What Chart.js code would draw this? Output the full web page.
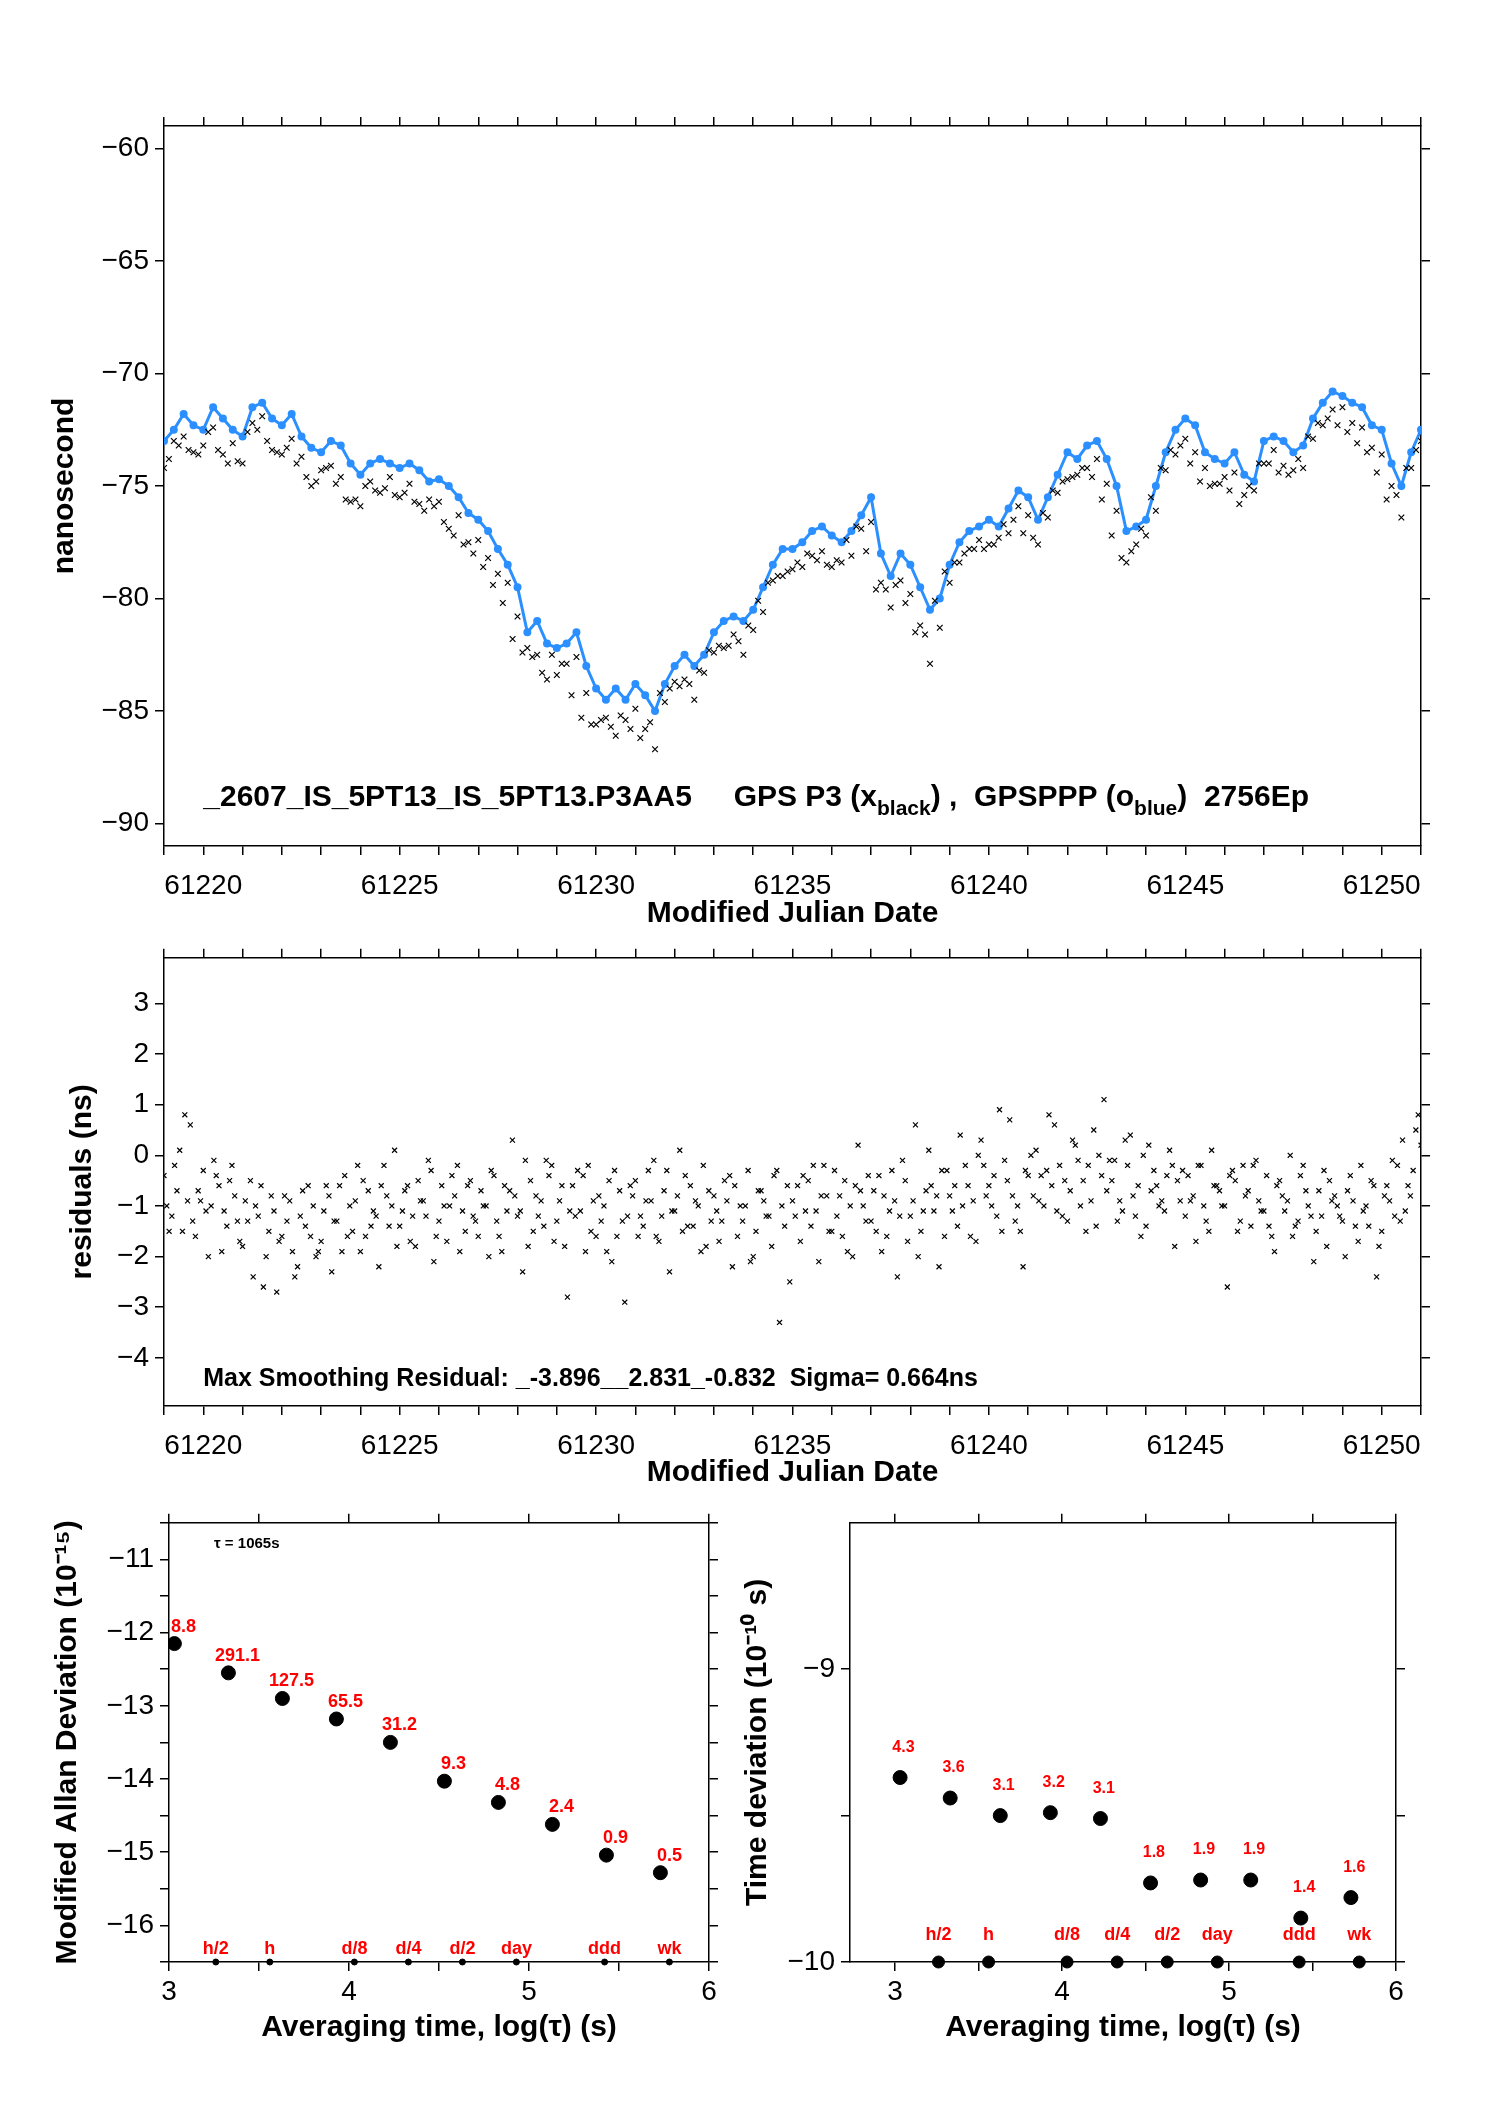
<!DOCTYPE html>
<html><head><meta charset="utf-8">
<script src="https://cdn.jsdelivr.net/npm/chart.js@4.4.1/dist/chart.umd.min.js"></script>
<style>
body{margin:0;background:#fff;width:1488px;height:2105px;position:relative;overflow:hidden}
canvas{position:absolute}
</style></head><body>
<canvas id="c1" style="left:0;top:100px;width:1488px;height:850px"></canvas>
<canvas id="c2" style="left:0;top:935px;width:1488px;height:580px"></canvas>
<canvas id="c3" style="left:0;top:1500px;width:740px;height:600px"></canvas>
<canvas id="c4" style="left:740px;top:1500px;width:748px;height:600px"></canvas>
<script>
// ─── Data ────────────────────────────────────────────────────────────────────
const mjdStart = 61219.0;
const step = 0.25;
const ppp = [-73,-72.5,-71.8,-72.3,-72.5,-71.5,-72,-72.5,-72.8,-71.5,-71.3,-72,-72.3,-71.8,-72.8,-73.3,-73.5,-73,-73.2,-74,
  -74.5,-74,-73.8,-74,-74.2,-74,-74.3,-74.8,-74.7,-75,-75.5,-76.2,-76.5,-77,-77.8,-78.5,-79.5,-81.5,-81,-82,
  -82.2,-82,-81.5,-83,-84,-84.5,-84,-84.5,-83.8,-84.3,-85,-83.8,-83,-82.5,-83,-82.5,-81.5,-81,-80.8,-81,
  -80.5,-79.5,-78.5,-77.8,-77.8,-77.5,-77,-76.8,-77.2,-77.5,-77,-76.3,-75.5,-78,-79,-78,-78.5,-79.5,-80.5,-80,
  -78.5,-77.5,-77,-76.8,-76.5,-76.8,-76,-75.2,-75.5,-76.5,-75.5,-74.5,-73.5,-73.8,-73.2,-73,-73.8,-75,-77,-76.8,
  -76.5,-75,-73.5,-72.5,-72,-72.3,-73.5,-73.8,-74,-73.5,-74.5,-74.8,-73,-72.8,-73,-73.5,-73.2,-72,-71.3,-70.8,
  -71,-71.3,-71.5,-72.3,-72.5,-74,-75,-73.5,-72.5];
const p3aStart = 61219.125;
const p3a = [-73.8,-73.2,-73.4,-73.6,-72.6,-73.4,-74.0,-73.9,-72.6,-72.5,
  -73.0,-73.5,-73.3,-74.0,-74.6,-74.8,-74.2,-74.9,-75.6,-75.6,
  -75.0,-75.2,-75.1,-75.4,-75.3,-75.7,-76.1,-75.9,-76.6,-77.2,
  -77.6,-78.0,-78.6,-79.4,-80.2,-81.8,-82.4,-82.6,-83.3,-82.5,
  -82.9,-84.3,-85.3,-85.6,-85.4,-85.7,-85.2,-85.8,-86.2,-85.5,
  -84.2,-84.0,-83.9,-83.8,-83.2,-82.3,-82.1,-82.1,-81.9,-81.2,
  -80.1,-79.3,-79.0,-78.8,-78.4,-78.0,-78.3,-78.5,-78.3,-77.4,
  -76.8,-77.9,-79.6,-79.6,-79.4,-80.2,-81.5,-81.6,-80.1,-78.8,
  -78.4,-78.0,-77.8,-77.8,-77.6,-76.7,-76.5,-77.1,-77.3,-76.2,
  -75.2,-74.8,-74.6,-74.2,-74.6,-75.6,-77.2,-78.2,-77.9,-76.9,
  -75.5,-74.2,-73.4,-73.2,-74.0,-74.8,-75.0,-74.9,-75.2,-75.8,
  -75.0,-74.0,-74.0,-74.4,-74.5,-73.8,-72.8,-72.2,-72.0,-72.3,
  -72.6,-73.1,-73.5,-74.4,-75.6,-75.4,-74.2,-73.4];
const p3b = [-74.2,-73.0,-72.8,-73.5,-73.2,-72.4,-73.6,-73.1,-74.0,-72.2,-71.9,-73.4,-73.6,-72.9,-73.7,-75.0,-74.3,-74.1,-74.6,-75.7,
  -75.9,-74.8,-75.3,-74.6,-75.5,-74.9,-75.8,-75.6,-75.7,-76.9,-76.3,-77.5,-77.4,-78.2,-78.9,-79.3,-80.8,-82.2,-82.5,-83.6,
  -83.4,-82.9,-82.6,-84.2,-85.6,-85.3,-86.1,-85.4,-84.9,-85.8,-86.7,-84.6,-83.7,-83.6,-84.5,-83.3,-82.4,-82.2,-81.6,-82.5,
  -81.4,-80.6,-79.2,-79.0,-78.7,-78.6,-78.1,-77.9,-78.6,-78.4,-78.1,-76.9,-76.6,-79.3,-80.4,-79.2,-79.8,-81.2,-82.9,-81.3,
  -79.3,-78.4,-77.8,-77.4,-77.6,-77.3,-77.1,-75.9,-76.3,-77.6,-76.4,-75.3,-74.7,-74.5,-74.2,-73.8,-74.9,-76.1,-78.4,-77.6,
  -77.2,-76.1,-74.3,-73.6,-72.9,-73.5,-74.2,-74.9,-74.6,-74.4,-75.4,-75.2,-74.0,-73.4,-74.1,-74.3,-74.2,-72.9,-72.3,-71.6,
  -71.5,-72.2,-72.4,-73.3,-73.6,-75.0,-76.4,-74.2,-73.0];

const residStep = 0.2;
const resid1Start = 61219.0;
const resid1 = [-0.4,-1.2,0.1,-0.9,-1.6,-0.3,-1.0,-0.6,-1.4,-0.8,
  -1.8,-0.5,-1.2,-2.0,-1.1,-1.6,-0.9,-2.2,-1.4,-1.0,
  -1.7,-0.8,-1.3,-0.4,-1.5,-1.9,-0.7,-1.2,-0.2,-1.0,
  -1.4,-0.6,-1.8,-0.9,-0.3,-1.3,-1.7,-0.8,-1.1,-0.5,
  -1.6,-1.0,-0.4,-1.9,-0.7,-1.2,-0.1,-1.5,-0.9,-0.4,
  -1.3,-1.8,-0.6,-1.1,-0.2,-1.6,-1.0,-2.1,-0.7,-1.2,
  -0.5,-1.4,-0.9,-1.7,-0.3,-1.1,-1.5,-0.6,-1.0,-1.8,
  -0.8,-1.3,-0.4,-1.6,-1.0,-2.0,-0.7,-1.2,-0.3,-1.4,
  -0.9,-1.7,-0.5,-1.1,-0.2,-1.5,-0.8,-1.9,-0.6,-1.0,
  -1.3,-0.4,-1.6,-0.9,-0.1,-1.2,-2.0,-0.7,-1.1,-0.3,
  -0.8,-1.4,-0.2,-0.9,0.3,-0.6,-1.2,-0.1,-0.8,-1.5,
  -0.4,0.1,-1.0,-0.6,-0.2,-1.3,0.2,-0.5,-0.9,0.0,
  -0.7,-0.1,-1.1,0.4,-0.6,-1.4,-0.3,-0.9,0.1,-0.5,
  -1.2,-0.8,-0.2,-1.5,-0.6,-1.0,-0.3,-1.3,-0.7,-0.1,
  -1.1,-1.6,-0.5,-0.9,-1.4,-0.2,-1.2,-0.7,-1.8,-0.8,
  -1.3,-0.4,-1.7,-1.0,-0.6,-1.5,-0.9,-0.2,-1.1,-0.3,0.2];
const resid2Start = 61219.07;
const resid2 = [-1.0,-0.2,-1.5,0.6,-0.7,-1.1,-0.1,-1.9,-0.5,-1.3,
  -0.9,-2.4,-0.6,-1.5,-2.7,-0.8,-1.9,-1.2,-0.6,-2.0,
  -1.1,-2.3,-0.6,-1.6,-0.9,-0.5,-1.4,-2.2,-0.8,0.1,
  -1.1,-1.7,-0.5,-1.2,-2.1,-0.6,-1.0,-0.2,-1.5,-1.2,
  -0.7,-2.0,-1.3,-0.6,0.3,-1.1,-1.8,-0.8,-1.4,-0.2,
  -0.9,-2.8,-1.2,-0.4,-1.5,-0.8,-1.9,-0.3,-1.3,-0.6,
  -1.6,-0.9,-0.1,-1.2,-2.3,-0.8,-0.4,-1.4,-1.9,-0.7,
  -1.1,-0.5,-2.2,-1.0,-0.3,-1.5,-0.9,-1.8,-3.3,-0.6,
  -1.2,-0.4,-1.4,-2.1,-0.8,-0.3,-1.6,-1.0,0.2,-1.3,
  -0.7,-1.9,-1.1,-2.4,-0.5,-0.9,-1.5,0.1,-0.8,-1.6,
  -1.1,0.4,-0.6,-1.7,-0.2,-1.0,0.9,-0.5,-1.3,-2.2,
  0.0,-0.9,-0.3,0.6,-1.2,-0.7,-0.1,-1.5,0.5,-0.4,
  -0.1,-1.3,0.3,-0.8,-1.6,0.2,-0.6,-1.1,-0.2,-0.9,
  -0.4,-1.7,-1.0,0.1,-0.7,-2.6,-0.5,-0.2,-1.4,-0.9,
  -0.4,-1.9,-0.8,0.0,-1.3,-0.7,-2.1,-1.2,-0.5,-1.0,
  -2.0,-0.9,-0.2,-1.4,-2.4,-0.8,-0.1,-1.3,-0.6,0.5];
const resid3Start = 61219.13;
const resid3 = [-1.5,-0.7,0.8,-1.3,-0.9,-2.0,-0.4,-1.1,-0.2,-1.7,
  -1.3,-1.0,-2.6,-0.8,-1.7,-1.3,-2.4,-0.7,-1.6,-1.9,
  -0.6,-1.3,-1.9,-1.0,-0.2,-1.6,-1.1,-0.6,-1.4,-1.8,
  -0.7,-1.2,-0.9,-0.1,-1.6,-1.0,-0.4,-1.9,-0.6,-1.3,
  -1.0,-0.3,-1.6,-1.1,-0.8,-2.3,-0.5,-1.2,-0.1,-1.7,
  -0.6,-1.1,-0.3,-1.9,-0.9,-1.3,-0.5,-1.6,-2.9,-0.8,
  -1.2,-0.3,-1.6,-0.7,-1.1,0.1,-1.4,-0.9,-0.2,-1.3,
  -1.7,-0.9,-0.6,-1.3,-2.1,-0.7,-1.2,-0.4,-1.0,-2.5,
  -0.6,-1.1,-0.2,-0.8,-1.5,-1.2,-0.5,-2.0,-0.7,-0.4,
  -1.5,-0.8,-0.3,-1.2,-1.7,0.6,-1.1,-0.6,-2.2,-0.3,
  -0.6,-1.0,-1.6,0.0,-0.8,-0.4,-1.5,0.7,-1.0,-0.3,
  -0.8,-0.4,0.8,-1.1,-0.5,0.3,-1.0,-0.2,-1.4,1.1,
  -0.5,-0.9,-0.2,-1.2,0.0,-0.7,-1.0,-0.4,-1.8,-0.3,
  -0.9,-0.2,-1.3,-0.6,-1.0,-0.4,-1.5,-0.8,-0.2,-1.1,
  -1.4,-0.6,-1.1,-1.6,-0.4,-1.0,-1.5,-0.3,-0.9,-1.2,
  -0.7,-1.4,-1.1,-0.5,-1.8,-0.6,-1.2,0.3,-0.8,0.8];

const logTau   = [3.03,3.33,3.63,3.93,4.23,4.53,4.83,5.13,5.43,5.73];
const modAdev  = [-12.15,-12.55,-12.9,-13.18,-13.5,-14.03,-14.32,-14.62,-15.04,-15.28];
const adevLbl  = ['8.8','291.1','127.5','65.5','31.2','9.3','4.8','2.4','0.9','0.5'];
const tdev     = [-9.37,-9.44,-9.5,-9.49,-9.51,-9.73,-9.72,-9.72,-9.85,-9.78];
const tdevLbl  = ['4.3','3.6','3.1','3.2','3.1','1.8','1.9','1.9','1.4','1.6'];
const markTau  = [3.26,3.56,4.03,4.33,4.63,4.93,5.42,5.78];
const markLbl  = ['h/2','h','d/8','d/4','d/2','day','ddd','wk'];

// ─── Helpers ─────────────────────────────────────────────────────────────────
const FONT = '"Liberation Sans", Arial, sans-serif';
const minus = v => String(v).replace('-', '\u2212');
const fixed = (w, h) => s => { if (w != null) s.width = w; if (h != null) s.height = h; };
const series = (start, vals, dt) => vals.map((v, i) => ({ x: start + i * dt, y: v }));

function axis(pos, opt) {
  const o = {
    position: pos, min: opt.min, max: opt.max,
    grid: { drawOnChartArea: false, drawTicks: true, tickLength: opt.tl || 9, color: '#000', lineWidth: 1.5 },
    border: { display: true, color: '#000', width: 1.5 },
    ticks: {
      stepSize: opt.step, color: '#000', padding: opt.pad || 6, autoSkip: false, maxRotation: 0,
      font: { family: FONT, size: 28 },
      callback: opt.labels ? v => (opt.labels(v) ? minus(v) : '') : () => '',
    },
    afterFit: fixed(opt.w, opt.h),
    afterBuildTicks: opt.ticksAt ? s => { s.ticks = opt.ticksAt.map(v => ({ value: v })); } : undefined,
  };
  if (opt.title) o.title = { display: true, text: opt.title, color: '#000', padding: opt.tpad || 0,
    font: { family: FONT, size: 30, weight: 'bold' } };
  return o;
}
const isInt = v => Math.abs(v - Math.round(v)) < 1e-6;

const notes = {
  id: 'notes',
  afterDatasetsDraw(chart, args, o) {
    const ctx = chart.ctx, x = chart.scales.x, y = chart.scales.y;
    (o.items || []).forEach(it => {
      ctx.save();
      ctx.fillStyle = it.color || '#000';
      ctx.textAlign = it.align || 'center';
      ctx.textBaseline = 'alphabetic';
      let px = x.getPixelForValue(it.x), py = y.getPixelForValue(it.y) + (it.dy || 0);
      (Array.isArray(it.text) ? it.text : [[it.text, 0]]).forEach(([t, sh]) => {
        ctx.font = `${it.bold ? 'bold ' : ''}${sh ? it.size * 0.7 : it.size}px ${FONT}`;
        ctx.fillText(t, px, py + sh);
        px += ctx.measureText(t).width;
      });
      ctx.restore();
    });
  }
};
Chart.register(notes);

const base = {
  responsive: false, animation: false, devicePixelRatio: 1,
  layout: { padding: 0 },
  plugins: { legend: { display: false }, tooltip: { enabled: false } },
};
function mk(id, w, h) { const c = document.getElementById(id); c.width = w; c.height = h; return c; }
const cross = (data, r) => ({ data, pointStyle: 'crossRot', pointRadius: r, borderColor: '#000', borderWidth: 1.2 });

// ─── Top: time series ────────────────────────────────────────────────────────
new Chart(mk('c1', 1488, 850), {
  type: 'scatter',
  data: { datasets: [
    cross(series(p3aStart, p3a, step), 4),
    cross(series(mjdStart, p3b, step), 4),
    { data: series(mjdStart, ppp, step), showLine: true, pointRadius: 2.5,
      pointBackgroundColor: '#2b8fff', borderColor: '#2b8fff', borderWidth: 3, tension: 0 },
  ] },
  options: { ...base,
    plugins: { ...base.plugins, notes: { items: [
      { x: 61220, y: -89.2, align: 'left', size: 30, bold: true, text: [['_2607_IS_5PT13_IS_5PT13.P3AA5     GPS P3 (x', 0], ['black', 9], [') ,  GPSPPP (o', 0], ['blue', 9], [')  2756Ep', 0]] },
    ] } },
    scales: {
      x: axis('bottom', { min: 61219, max: 61251, step: 1, h: 104, tl: 0, labels: v => v % 5 === 0, title: 'Modified Julian Date', pad: 14, tpad: 18 }),
      x2: axis('top', { min: 61219, max: 61251, step: 1, h: 26, tl: 9 }),
      y: axis('left', { min: -91, max: -59, w: 164, labels: v => true, ticksAt: [-90,-85,-80,-75,-70,-65,-60], title: 'nanosecond', tpad: 47 }),
      y2: axis('right', { min: -91, max: -59, w: 67, ticksAt: [-90,-85,-80,-75,-70,-65,-60] }),
    },
  },
});

// ─── Middle: residuals ───────────────────────────────────────────────────────
new Chart(mk('c2', 1488, 580), {
  type: 'scatter',
  data: { datasets: [
    cross(series(resid1Start, resid1, residStep), 3.5),
    cross(series(resid2Start, resid2, residStep), 3.5),
    cross(series(resid3Start, resid3, residStep), 3.5),
  ] },
  options: { ...base,
    plugins: { ...base.plugins, notes: { items: [
      { x: 61220, y: -4.55, align: 'left', size: 25, bold: true, text: 'Max Smoothing Residual: _-3.896__2.831_-0.832  Sigma= 0.664ns' },
    ] } },
    scales: {
      x: axis('bottom', { min: 61219, max: 61251, step: 1, h: 109, tl: 0, labels: v => v % 5 === 0, title: 'Modified Julian Date', pad: 14, tpad: 24 }),
      x2: axis('top', { min: 61219, max: 61251, step: 1, h: 18, tl: 9 }),
      y: axis('left', { min: -4.95, max: 3.9, w: 164, labels: v => true, ticksAt: [-4,-3,-2,-1,0,1,2,3], title: 'residuals (ns)', tpad: 65 }),
      y2: axis('right', { min: -4.95, max: 3.9, w: 67, ticksAt: [-4,-3,-2,-1,0,1,2,3] }),
    },
  },
});

// ─── Bottom-left: modified Allan deviation ───────────────────────────────────
new Chart(mk('c3', 740, 600), {
  type: 'scatter',
  data: { datasets: [
    { data: logTau.map((v, i) => ({ x: v, y: modAdev[i] })), pointRadius: 7, backgroundColor: '#000', borderColor: '#000' },
    { data: markTau.map(v => ({ x: v, y: -16.5 })), pointRadius: 3, backgroundColor: '#000', borderColor: '#000', clip: false },
  ] },
  options: { ...base,
    plugins: { ...base.plugins, notes: { items: [
      ...logTau.map((v, i) => ({ x: v + 0.05, y: modAdev[i], dy: -12, size: 18, bold: true, color: '#f00', text: adevLbl[i] })),
      ...markTau.map((v, i) => ({ x: v, y: -16.5, dy: -8, size: 18, bold: true, color: '#f00', text: markLbl[i] })),
      { x: 3.25, y: -10.85, align: 'left', size: 15, bold: true, text: '\u03c4 = 1065s' },
    ] } },
    scales: {
      x: axis('bottom', { min: 3, max: 6, step: 0.5, h: 138, tl: 9, labels: isInt, title: 'Averaging time, log(\u03c4) (s)', pad: 4, tpad: 54 }),
      x2: axis('top', { min: 3, max: 6, step: 0.5, h: 11, tl: 9 }),
      y: axis('left', { min: -16.5, max: -10.5, step: 0.5, w: 169, labels: isInt, title: 'Modified Allan Deviation (10\u207b\u00b9\u2075)', tpad: 50 }),
      y2: axis('right', { min: -16.5, max: -10.5, step: 0.5, w: 31 }),
    },
  },
});

// ─── Bottom-right: time deviation ────────────────────────────────────────────
new Chart(mk('c4', 748, 600), {
  type: 'scatter',
  data: { datasets: [
    { data: logTau.map((v, i) => ({ x: v, y: tdev[i] })), pointRadius: 7, backgroundColor: '#000', borderColor: '#000' },
    { data: markTau.map(v => ({ x: v, y: -10 })), pointRadius: 6, backgroundColor: '#000', borderColor: '#000', clip: false },
  ] },
  options: { ...base,
    plugins: { ...base.plugins, notes: { items: [
      ...logTau.map((v, i) => ({ x: v + 0.02, y: tdev[i], dy: -26, size: 16, bold: true, color: '#f00', text: tdevLbl[i] })),
      ...markTau.map((v, i) => ({ x: v, y: -10, dy: -22, size: 18, bold: true, color: '#f00', text: markLbl[i] })),
    ] } },
    scales: {
      x: axis('bottom', { min: 2.73, max: 6, h: 138, tl: 9, labels: isInt, ticksAt: [3,3.5,4,4.5,5,5.5,6], title: 'Averaging time, log(\u03c4) (s)', pad: 4, tpad: 54 }),
      x2: axis('top', { min: 2.73, max: 6, h: 11, tl: 9, ticksAt: [3,3.5,4,4.5,5,5.5,6] }),
      y: axis('left', { min: -10, max: -8.5, w: 110, labels: isInt, ticksAt: [-10,-9.5,-9], title: 'Time deviation (10\u207b\u00b9\u2070 s)', tpad: 0 }),
      y2: axis('right', { min: -10, max: -8.5, w: 92, ticksAt: [-10,-9.5,-9] }),
    },
  },
});
</script>
</body></html>
